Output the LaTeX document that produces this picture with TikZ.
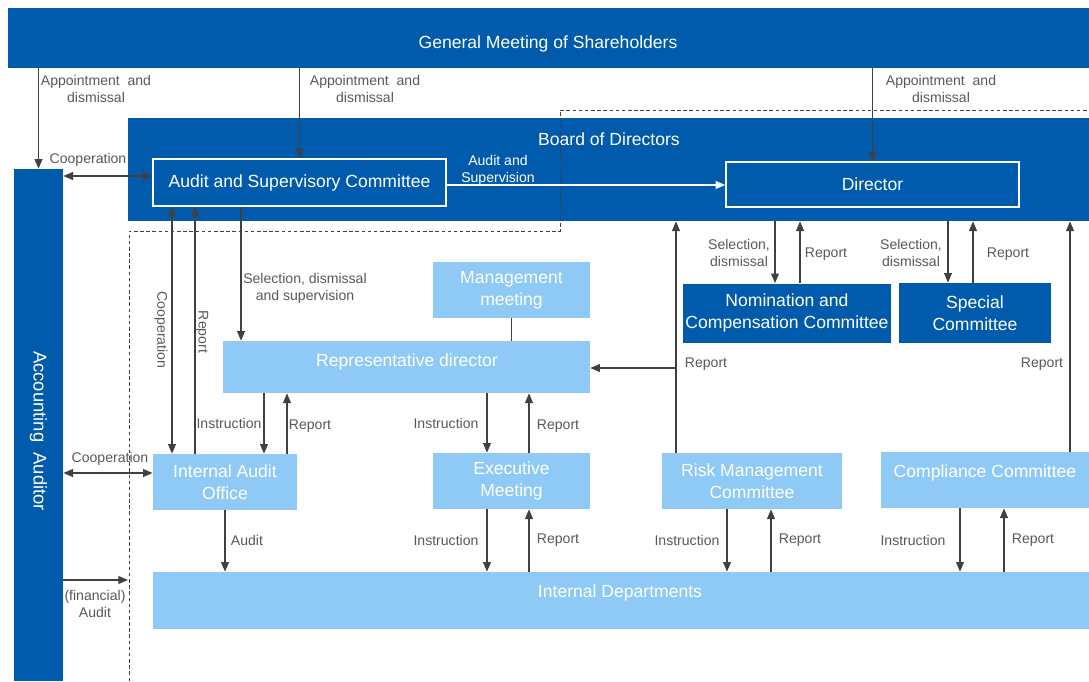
\documentclass[tikz,border=0pt]{standalone}
\usepackage{fontspec}
\setmainfont{Liberation Sans}
\usepackage{xcolor}
\usepackage{tikz}
\usetikzlibrary{positioning}
\usetikzlibrary{arrows.meta}
\definecolor{dkblue}{HTML}{005BAC}
\definecolor{ltblue}{HTML}{8FC9F5}
\definecolor{arrgray}{HTML}{404040}
\definecolor{lblgray}{HTML}{595959}
\tikzset{>={Triangle[width=4.5pt,length=5.5pt]}}

\begin{document}
\begin{tikzpicture}[x=0.02cm, y=-0.02cm,
    darkbox/.style={fill=dkblue, text=white, align=center, inner sep=0pt, font=\fontsize{10}{12.5}\selectfont},
    lightbox/.style={fill=ltblue, text=white, align=center, inner sep=0pt, font=\fontsize{10}{12.5}\selectfont},
    framebox/.style={draw=white, line width=0.9pt, text=white, align=center, inner sep=0pt, font=\fontsize{10}{12.5}\selectfont},
    boxtext/.style={text=white, inner sep=0pt, font=\fontsize{10}{12.5}\selectfont},
    lbl/.style={text=lblgray, align=center, inner sep=1pt, font=\fontsize{8}{9.6}\selectfont},
    arr/.style={draw=arrgray, line width=0.6pt, ->},
    arrboth/.style={draw=arrgray, line width=0.6pt, <->}]

    \useasboundingbox (0,0) rectangle (1089,681);

    %Nodes
    \node[darkbox, minimum width=21.62cm, minimum height=1.2cm](gms) at (548.5,38) {};
    \node[boxtext](gmstext) at (548,44) {General Meeting of Shareholders};
    \node[darkbox, minimum width=19.22cm, minimum height=2.06cm](board) at (608.5,169.5) {};
    \node[boxtext](boardtitle) at (609,139) {Board of Directors};
    \node[framebox, minimum width=5.86cm, minimum height=0.94cm](asc) at (299.5,182.5) {Audit and Supervisory Committee};
    \node[framebox, minimum width=5.86cm, minimum height=0.9cm](director) at (872.5,184.5) {Director};
    \node[darkbox, minimum width=0.98cm, minimum height=10.24cm](auditor) at (38.5,425) {};
    \node[boxtext, rotate=-90, font=\fontsize{10.5}{12}\selectfont](auditortext) at (38.5,431) {Accounting\ \ Auditor};
    \node[lightbox, minimum width=3.14cm, minimum height=1.12cm](mm) at (511.5,290) {Management\\meeting};
    \node[lightbox, minimum width=7.34cm, minimum height=1.04cm](rep) at (406.5,367) {};
    \node[boxtext](reptext) at (407,362) {Representative director};
    \node[darkbox, minimum width=4.16cm, minimum height=1.18cm](ncc) at (787,313) {Nomination and\\Compensation Committee};
    \node[darkbox, minimum width=3.04cm, minimum height=1.2cm](special) at (975,313) {Special\\Committee};
    \node[lightbox, minimum width=2.88cm, minimum height=1.12cm](iao) at (225,482) {Internal Audit\\Office};
    \node[lightbox, minimum width=3.14cm, minimum height=1.12cm](exec) at (511.5,481) {Executive\\Meeting};
    \node[lightbox, minimum width=3.6cm, minimum height=1.12cm](rmc) at (752,481) {Risk Management\\Committee};
    \node[lightbox, minimum width=4.16cm, minimum height=1.12cm](comp) at (985,480) {};
    \node[boxtext](comptext) at (985,473) {Compliance Committee};
    \node[lightbox, minimum width=18.72cm, minimum height=1.14cm](idept) at (621,600.5) {};
    \node[boxtext](idepttext) at (620,593) {Internal Departments};

    %Dashed frame
    \draw[dashed, dash pattern=on 2pt off 1.5pt, arrgray, line width=0.5pt] (129,681) -- (129,231) -- (560,231) -- (560,110) -- (1089,110);
    \coordinate (finaud) at (128,580);
    \coordinate (rmcjoin) at (676,368);

    %Lines
    \draw[arr] (gms.south -| auditor) -- (auditor.north);
    \draw[arr] (gms.south -| asc) -- (asc.north);
    \draw[arr] (gms.south -| director) -- (director.north);
    \draw[arrboth] (asc.west |- 0,176) -- (auditor.east |- 0,176);
    \draw[white, line width=0.6pt, ->] (asc.east |- 0,185) -- (director.west |- 0,185);
    \draw[arrboth] (172,0 |- asc.south) -- (172,0 |- iao.north);
    \draw[arr] (195,0 |- iao.north) -- (195,0 |- asc.south);
    \draw[arr] (241,0 |- asc.south) -- (241,0 |- rep.north);
    \draw[arrgray, line width=0.6pt] (mm.south) -- (rep.north -| mm.south);
    \draw[arr] (264,0 |- rep.south) -- (264,0 |- iao.north);
    \draw[arr] (287,0 |- iao.north) -- (287,0 |- rep.south);
    \draw[arr] (487,0 |- rep.south) -- (487,0 |- exec.north);
    \draw[arr] (529,0 |- exec.north) -- (529,0 |- rep.south);
    \draw[arr] (676,0 |- rmc.north) -- (676,0 |- board.south);
    \draw[arr] (rmcjoin) -- (rep.east |- rmcjoin);
    \draw[arr] (775,0 |- board.south) -- (775,0 |- ncc.north);
    \draw[arr] (800,0 |- ncc.north) -- (800,0 |- board.south);
    \draw[arr] (948,0 |- board.south) -- (948,0 |- special.north);
    \draw[arr] (973,0 |- special.north) -- (973,0 |- board.south);
    \draw[arr] (1070,0 |- comp.north) -- (1070,0 |- board.south);
    \draw[arrboth] (auditor.east |- 0,473) -- (iao.west |- 0,473);
    \draw[arr] (iao.south) -- (iao.south |- idept.north);
    \draw[arr] (487,0 |- exec.south) -- (487,0 |- idept.north);
    \draw[arr] (529,0 |- idept.north) -- (529,0 |- exec.south);
    \draw[arr] (727,0 |- rmc.south) -- (727,0 |- idept.north);
    \draw[arr] (771,0 |- idept.north) -- (771,0 |- rmc.south);
    \draw[arr] (960,0 |- comp.south) -- (960,0 |- idept.north);
    \draw[arr] (1004,0 |- idept.north) -- (1004,0 |- comp.south);
    \draw[arr] (auditor.east |- finaud) -- (finaud);

    %Labels
    \node[lbl](appoint1) at (96,89) {Appointment\ \ and\\dismissal};
    \node[lbl](appoint2) at (365,89) {Appointment\ \ and\\dismissal};
    \node[lbl](appoint3) at (941,89) {Appointment\ \ and\\dismissal};
    \node[lbl](coop1) at (88,160) {Cooperation};
    \node[lbl, text=white](auditsup) at (498,170) {Audit and\\Supervision};
    \node[lbl, rotate=-90](coop2) at (161,330) {Cooperation};
    \node[lbl, rotate=-90](report1) at (202,332) {Report};
    \node[lbl](selsup) at (305,288) {Selection, dismissal\\and supervision};
    \node[lbl](instr1) at (229,423) {Instruction};
    \node[lbl](report2) at (310,426) {Report};
    \node[lbl](instr2) at (446,423) {Instruction};
    \node[lbl](report3) at (558,426) {Report};
    \node[lbl](report4) at (706,364) {Report};
    \node[lbl](sel1) at (739,253) {Selection,\\dismissal};
    \node[lbl](report5) at (826,254) {Report};
    \node[lbl](sel2) at (911,253) {Selection,\\dismissal};
    \node[lbl](report6) at (1008,254) {Report};
    \node[lbl](report7) at (1042,364) {Report};
    \node[lbl](coop3) at (110,459) {Cooperation};
    \node[lbl](audit1) at (247,540) {Audit};
    \node[lbl](instr3) at (446,540) {Instruction};
    \node[lbl](report8) at (558,540) {Report};
    \node[lbl](instr4) at (687,540) {Instruction};
    \node[lbl](report9) at (800,540) {Report};
    \node[lbl](instr5) at (913,540) {Instruction};
    \node[lbl](report10) at (1033,540) {Report};
    \node[lbl](finaudit) at (95,604) {(financial)\\Audit};

\end{tikzpicture}
\end{document}
